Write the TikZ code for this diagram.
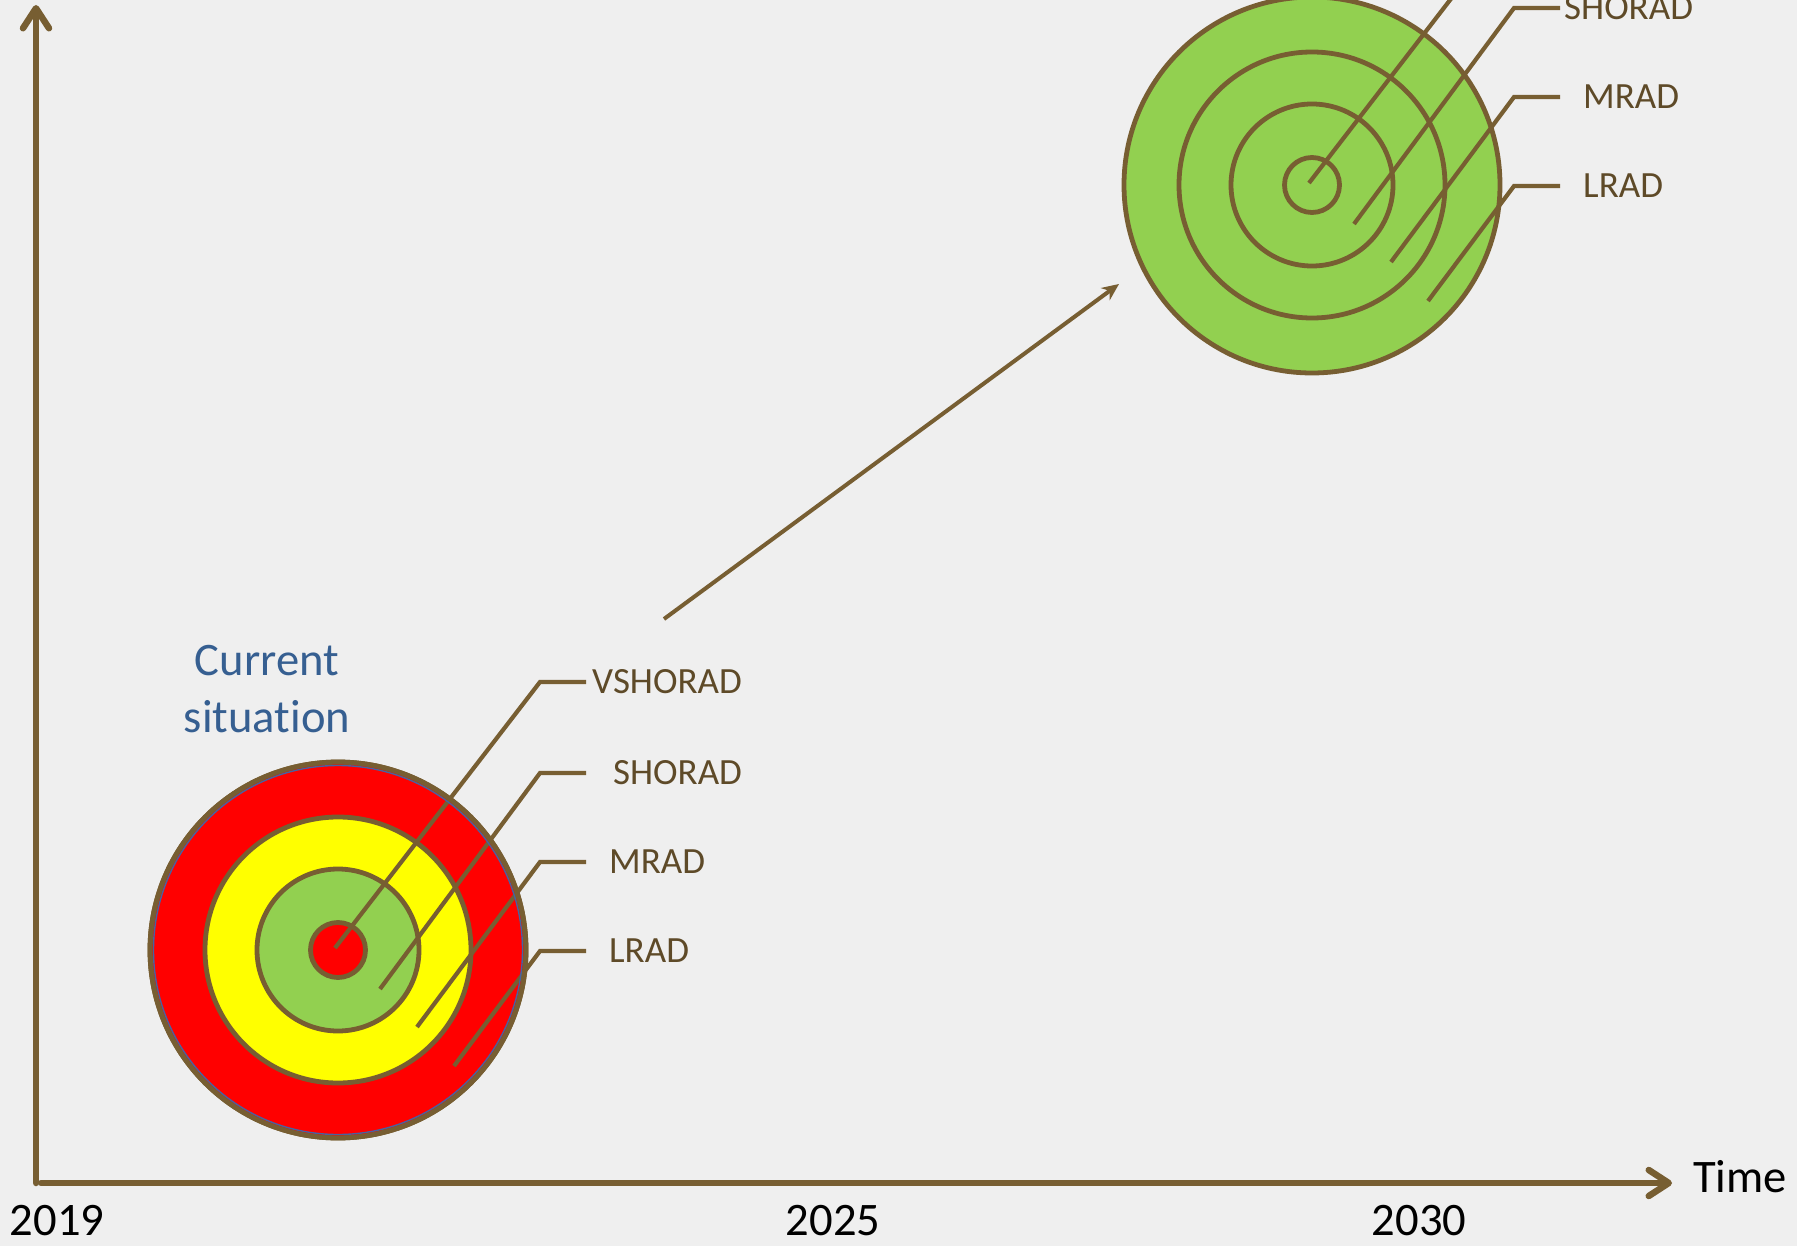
\documentclass[tikz,border=0pt]{standalone}
\usepackage{fontspec}
\setmainfont{Carlito}[Ligatures=NoCommon]
\usetikzlibrary{arrows.meta}

\definecolor{bgcol}{RGB}{239,239,239}
\definecolor{brownline}{RGB}{119,94,50}
\definecolor{browntext}{RGB}{94,74,40}
\definecolor{bluetext}{RGB}{54,95,145}
\definecolor{ringblue}{RGB}{70,100,160}
\definecolor{ringred}{RGB}{255,0,0}
\definecolor{ringyellow}{RGB}{255,255,0}
\definecolor{ringgreen}{RGB}{146,208,80}

\tikzset{
  axisline/.style={draw=brownline, line width=6.5pt, line cap=round,
    -{Straight Barb[length=20pt,width=26pt,line cap=round,line join=round]}},
  ringline/.style={draw=brownline, line width=4.8pt},
  leader/.style={draw=brownline, line width=4.2pt},
  rangelabel/.style={font=\fontsize{37}{44}\selectfont, text=browntext,
    anchor=west, inner sep=0pt},
  yearlabel/.style={font=\fontsize{46.6}{56}\selectfont, text=black,
    anchor=base, inner sep=0pt},
  trendarrow/.style={draw=brownline, line width=4pt,
    -{Stealth[length=17pt,width=15pt]}},
}

% one target: four concentric rings with leader lines
% #1 = centre, #2 = prefix for names, #3..#6 = ring fills (outer to inner)
\newcommand{\targetrings}[6]{%
  \coordinate (#2c) at #1;
  \fill[#3] (#2c) circle[radius=188pt];
  \fill[#4] (#2c) circle[radius=133pt];
  \fill[#5] (#2c) circle[radius=81pt];
  \fill[#6] (#2c) circle[radius=27.5pt];
  \draw[ringline] (#2c) circle[radius=188pt];
  \draw[ringline] (#2c) circle[radius=133pt];
  \draw[ringline] (#2c) circle[radius=81pt];
  \draw[ringline] (#2c) circle[radius=27.5pt];
  % leader lines: start inside the rings, rise to an elbow, then run right
  \coordinate (#2vs0) at ([shift={(-3,-2)}]#2c);
  \coordinate (#2vs1) at ([shift={(202,-268)}]#2c);
  \coordinate (#2vs2) at ([shift={(248,-268)}]#2c);
  \coordinate (#2sh0) at ([shift={(42,39)}]#2c);
  \coordinate (#2sh1) at ([shift={(202,-177)}]#2c);
  \coordinate (#2sh2) at ([shift={(248,-177)}]#2c);
  \coordinate (#2mr0) at ([shift={(79,77)}]#2c);
  \coordinate (#2mr1) at ([shift={(202,-88)}]#2c);
  \coordinate (#2mr2) at ([shift={(248,-88)}]#2c);
  \coordinate (#2lr0) at ([shift={(116,116)}]#2c);
  \coordinate (#2lr1) at ([shift={(202,1)}]#2c);
  \coordinate (#2lr2) at ([shift={(248,1)}]#2c);
  \draw[leader] (#2vs0) -- (#2vs1) -- (#2vs2);
  \draw[leader] (#2sh0) -- (#2sh1) -- (#2sh2);
  \draw[leader] (#2mr0) -- (#2mr1) -- (#2mr2);
  \draw[leader] (#2lr0) -- (#2lr1) -- (#2lr2);
}

\begin{document}
\begin{tikzpicture}[x=1pt,y=-1pt]
  \useasboundingbox (0,0) rectangle (1797,1246);
  \fill[bgcol] (0,0) rectangle (1797,1246);
  \clip (0,0) rectangle (1797,1246);

  % axes
  \coordinate (origin) at (36,1183);
  \coordinate (ytop) at (36,5);
  \coordinate (xstart) at (41,1183);
  \coordinate (xend) at (1672,1183);
  \draw[axisline] (origin) -- (ytop);
  \draw[axisline] (xstart) -- (xend);
  \node[yearlabel, anchor=base west] (time) at (1693,1192) {Time};
  \node[yearlabel] (y2019) at (57,1235) {2019};
  \node[yearlabel] (y2025) at (833,1235) {2025};
  \node[yearlabel] (y2030) at (1419,1235) {2030};

  % present-day coverage
  \targetrings{(338,950)}{a}{ringred}{ringyellow}{ringgreen}{ringred}
  \draw[ringblue, line width=1.4pt] (ac) circle[radius=184.5pt];
  \draw[ringline] (ac) circle[radius=188pt];
  \node[rangelabel] (avsl) at ([xshift=6pt]avs2) {VSHORAD};
  \node[rangelabel] (ashl) at ([xshift=27pt]ash2) {SHORAD};
  \node[rangelabel] (amrl) at ([xshift=23pt]amr2) {MRAD};
  \node[rangelabel] (alrl) at ([xshift=23pt]alr2) {LRAD};
  \node[font=\fontsize{46.6}{57}\selectfont, text=bluetext, align=center,
        anchor=north, inner sep=0pt] (current) at (267,645)
        {Current\\situation};

  % future coverage
  \targetrings{(1312,185)}{b}{ringgreen}{ringgreen}{ringgreen}{ringgreen}
  \node[rangelabel] (bshl) at ([xshift=4pt]bsh2) {SHORAD};
  \node[rangelabel] (bmrl) at ([xshift=23pt]bmr2) {MRAD};
  \node[rangelabel] (blrl) at ([xshift=23pt]blr2) {LRAD};

  % transition
  \coordinate (tstart) at (664,619);
  \coordinate (tend) at (1119,284);
  \draw[trendarrow] (tstart) -- (tend);
\end{tikzpicture}
\end{document}
